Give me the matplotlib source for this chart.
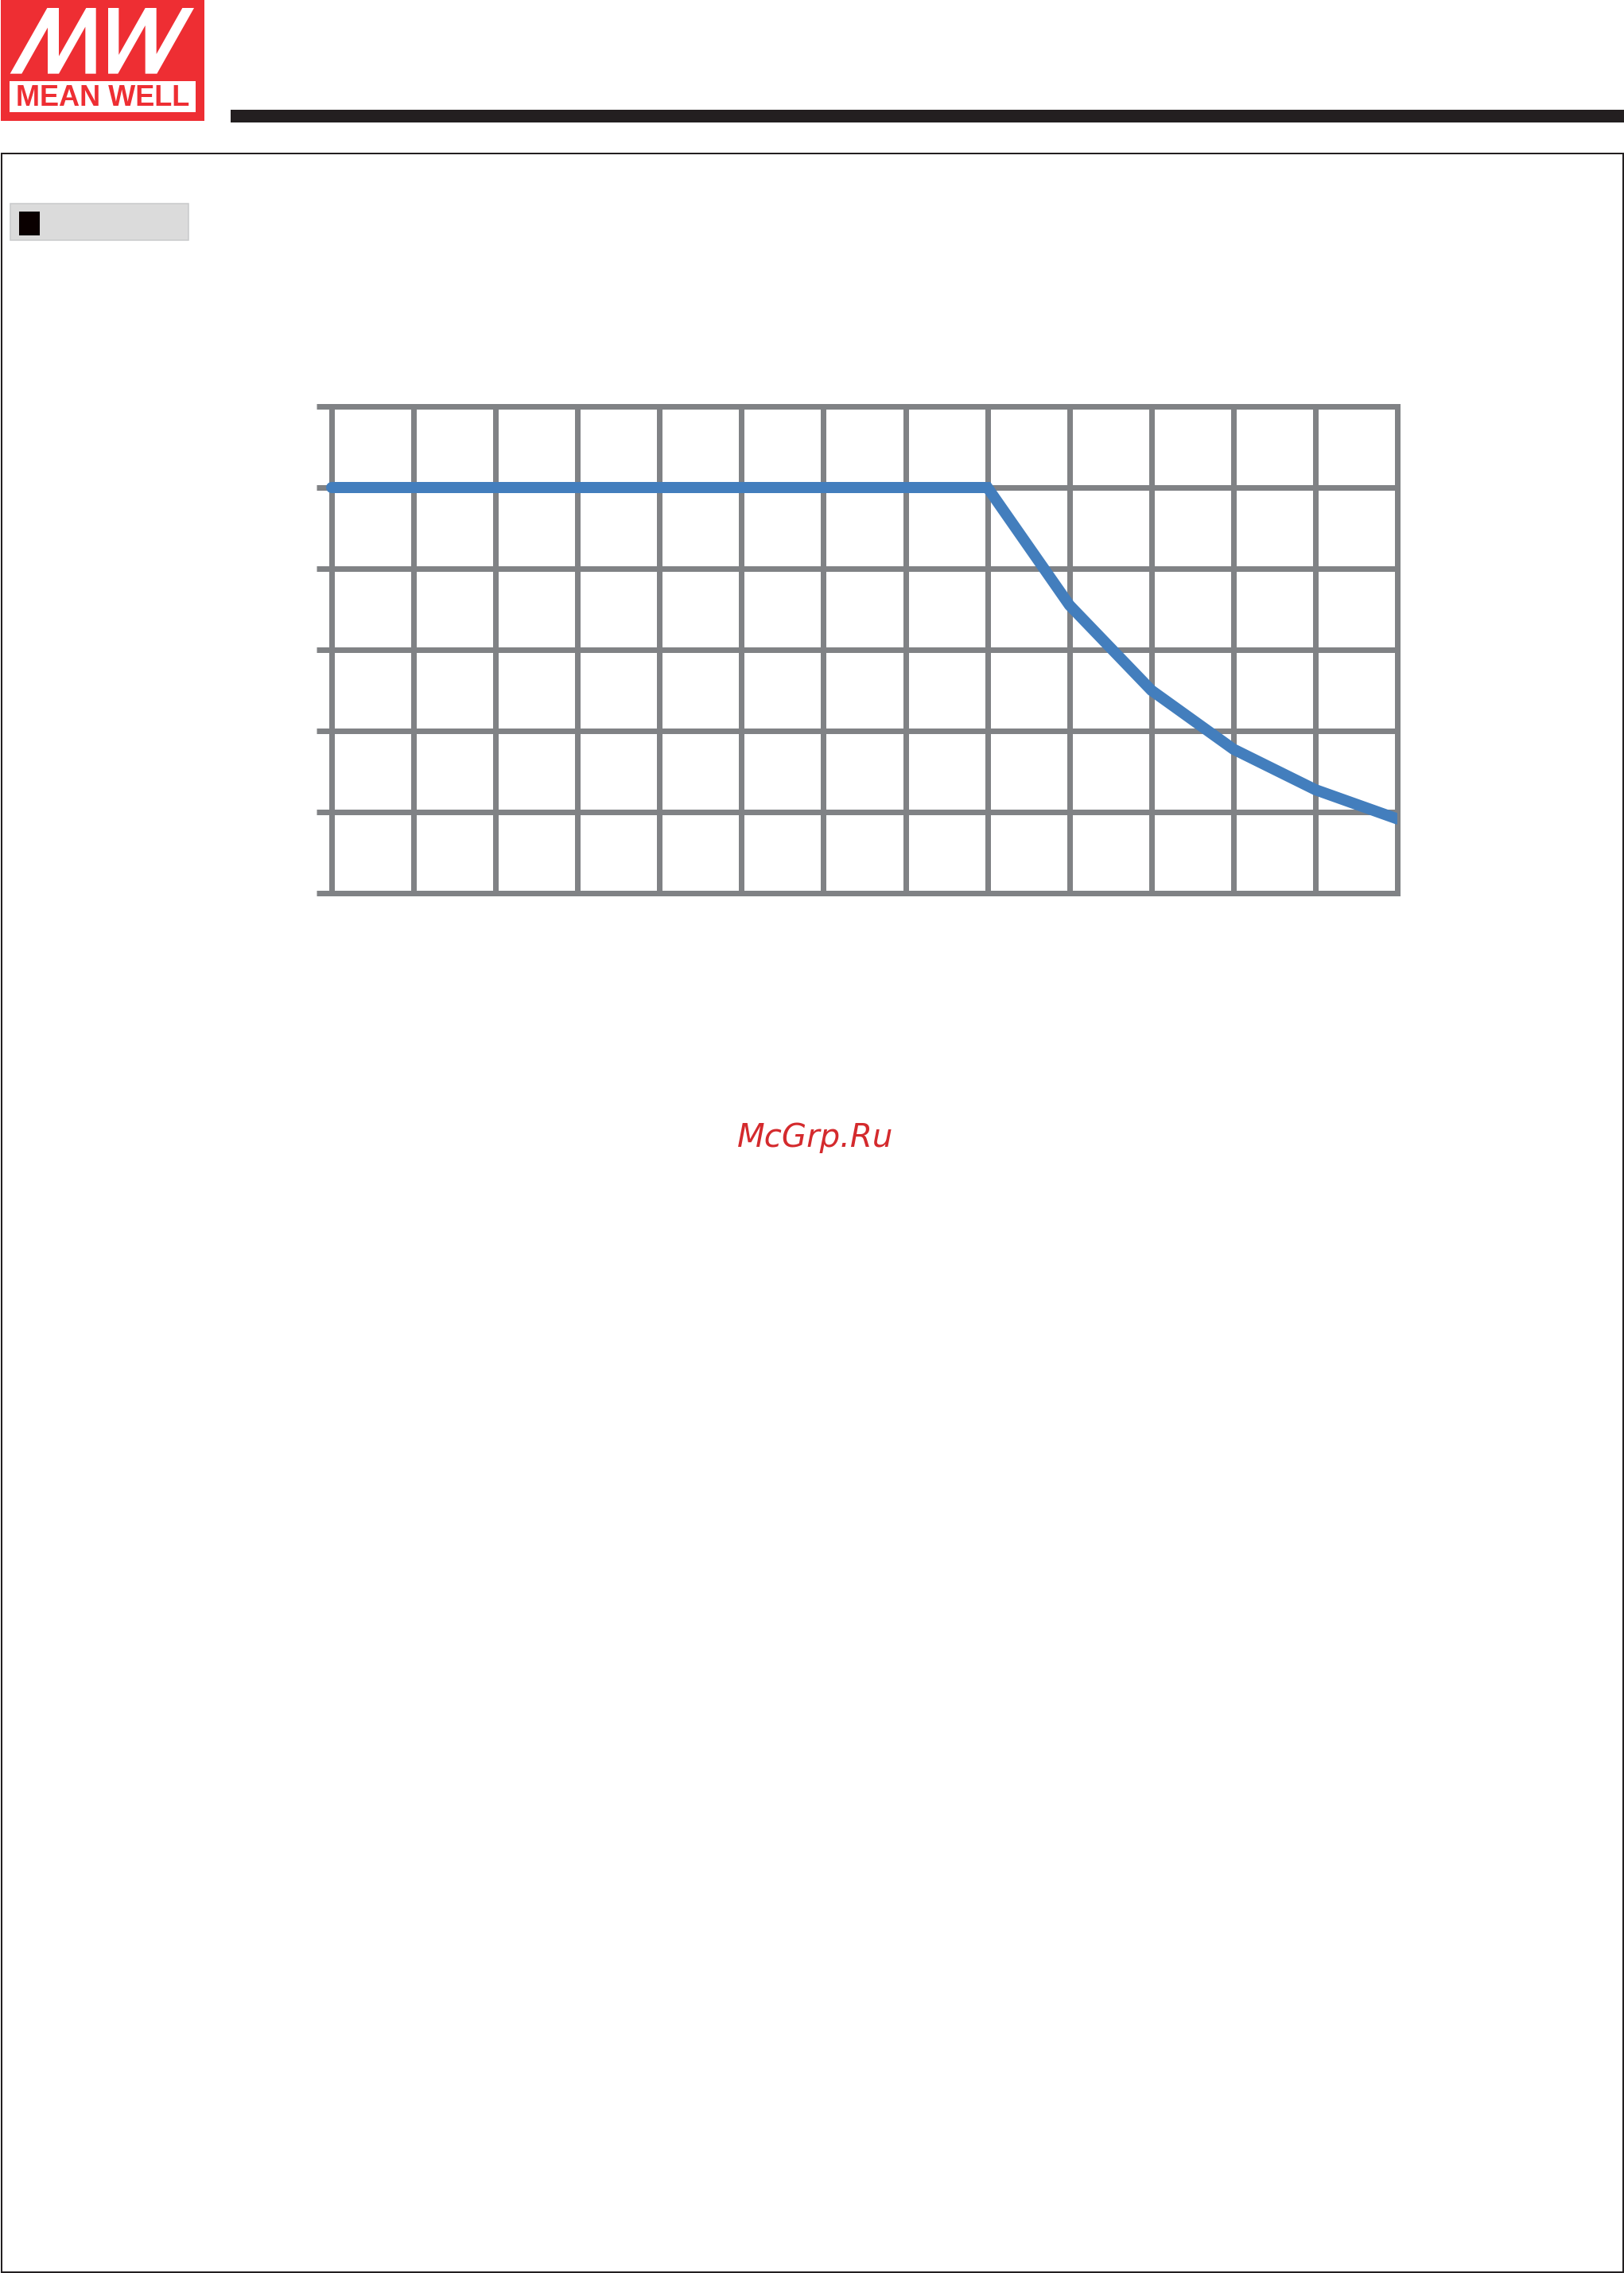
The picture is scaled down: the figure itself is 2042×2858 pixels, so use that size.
"""Redraw of the MEAN WELL derating curve page (the text layer is missing in the source)."""

import matplotlib

matplotlib.use("Agg")

import matplotlib.pyplot as plt
import matplotlib.figure as mplf  # just for type hints
from matplotlib.patches import Polygon, Rectangle

# page size in pixels, drawn at dpi 100
PAGE_W = 2042
PAGE_H = 2858
DPI = 100

# grid of the chart: 13 columns, 6 rows
x_ticks = list(range(14))
y_ticks = [0, 20, 40, 60, 80, 100, 120]

# the derating curve (load in %)
curve_x = [0, 8, 9, 10, 11, 12, 13]
curve_y = [100, 100, 71, 50, 35.5, 25.5, 18.3]

watermark = "McGrp.Ru"
brand = "MEAN WELL"

GRID_GRAY = "#808285"
CURVE_BLUE = "#437ebd"
LOGO_RED = "#ee2e33"
DARK = "#231f20"


def px(value: float) -> float:
    """Pixels to points at the figure dpi."""
    return value * 72 / DPI


def draw_logo(page: plt.Axes) -> None:
    """Red MW block with the white brand box."""
    page.add_patch(Rectangle((1, 0), 256, 152, facecolor=LOGO_RED, edgecolor="none"))

    # italic M as /|/| , in thirds of a pixel
    m_shape = [(38, 278), (178, 30), (222, 30), (222, 212), (325, 30), (362, 30),
               (362, 278), (322, 278), (322, 101), (222, 278), (180, 278),
               (180, 104), (82, 278)]
    # the W is the same shape turned half round: |/|/
    w_shape = [(770 - x, 308 - y) for x, y in m_shape]
    for shape in (m_shape, w_shape):
        pts = [(x / 3, y / 3) for x, y in shape]
        page.add_patch(Polygon(pts, closed=True, facecolor="white", edgecolor="none"))

    page.add_patch(Rectangle((12, 102), 234, 39, facecolor="white", edgecolor="none"))
    page.text(129, 123, brand, color=LOGO_RED, fontsize=26, fontweight="bold",
              family="Liberation Sans", ha="center", va="center")


def draw_page(fig: mplf.Figure) -> None:
    """Logo, header bar, page frame, section label and watermark, in pixel coords."""
    page = fig.add_axes([0, 0, 1, 1], zorder=0)
    page.set_xlim(0, PAGE_W)
    page.set_ylim(PAGE_H, 0)
    page.axis("off")
    page.patch.set_alpha(0)

    draw_logo(page)

    # header bar
    page.add_patch(Rectangle((290, 138), PAGE_W - 290, 16, facecolor=DARK, edgecolor="none"))

    # page frame
    page.add_patch(Rectangle((1.5, 192.5), PAGE_W - 3, PAGE_H - 194, facecolor="none",
                             edgecolor=DARK, linewidth=px(2)))

    # section label box
    page.add_patch(Rectangle((13, 256), 224, 46, facecolor="#dbdbdb",
                             edgecolor="#c8c9cb", linewidth=px(1.5)))
    page.add_patch(Rectangle((24, 266), 26, 30, facecolor="#0a0000", edgecolor="none"))

    # watermark
    page.text(1025, 1430, watermark, color="#d42a2d", fontsize=29, style="italic",
              family="DejaVu Sans", ha="center", va="center")


def draw_chart(fig: mplf.Figure) -> None:
    """The gridded derating chart, no labels."""
    left, right, top, bottom = 417, 1757, 511, 1123
    ax = fig.add_axes([left / PAGE_W, 1 - bottom / PAGE_H,
                       (right - left) / PAGE_W, (bottom - top) / PAGE_H], zorder=2)
    ax.set_xlim(x_ticks[0], x_ticks[-1])
    ax.set_ylim(y_ticks[0], y_ticks[-1])
    ax.patch.set_alpha(0)

    ax.set_xticks(x_ticks)
    ax.set_yticks(y_ticks)
    ax.tick_params(axis="x", length=0, labelbottom=False)
    ax.tick_params(axis="y", length=px(19), width=px(7), color=GRID_GRAY,
                   direction="out", labelleft=False)
    ax.grid(True, color=GRID_GRAY, linewidth=px(7), zorder=1)
    ax.set_axisbelow(True)
    for spine in ax.spines.values():
        spine.set_color(GRID_GRAY)
        spine.set_linewidth(px(7))

    (line,) = ax.plot(curve_x, curve_y, color=CURVE_BLUE, linewidth=px(14),
                      solid_capstyle="round", solid_joinstyle="miter", zorder=3)
    # round start on the left, flat cut at the right border
    clip = Rectangle((-0.1, -10), 13.1, 140, transform=ax.transData)
    line.set_clip_path(clip)


def main() -> None:
    fig = plt.figure(figsize=(PAGE_W / DPI, PAGE_H / DPI), dpi=DPI)
    fig.patch.set_facecolor("white")
    draw_page(fig)
    draw_chart(fig)
    fig.savefig("out.png", dpi=DPI)


if __name__ == "__main__":
    main()
